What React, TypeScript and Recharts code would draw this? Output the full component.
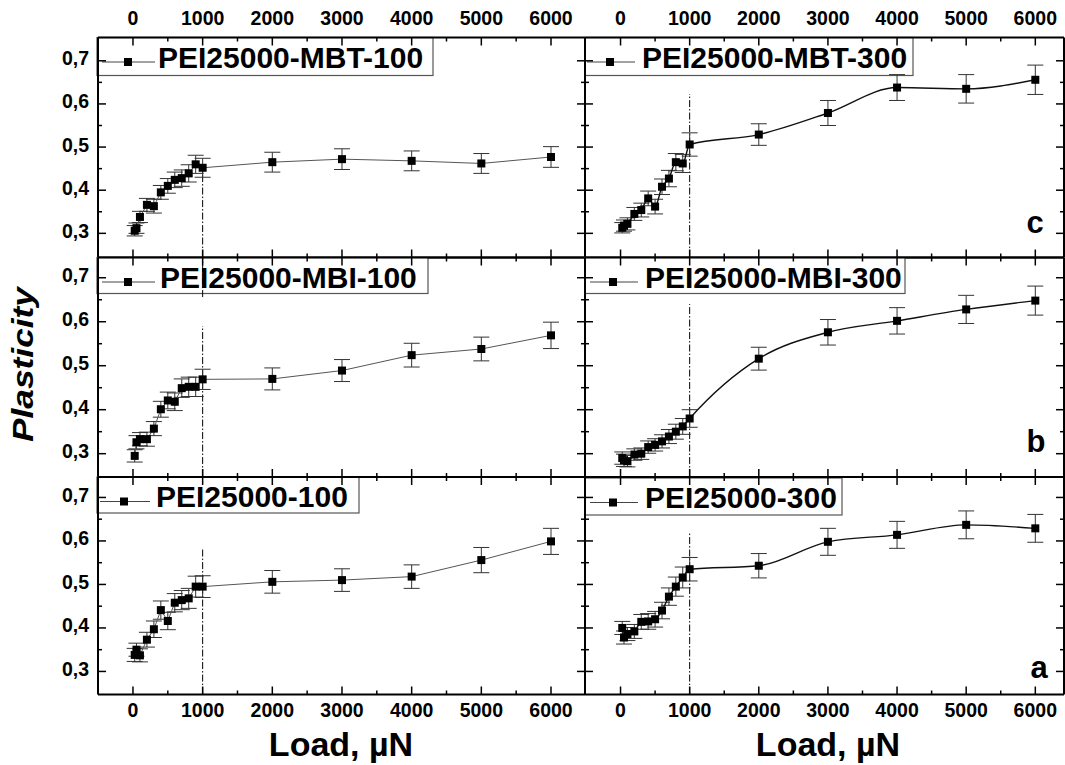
import React from 'react';
import { LineChart, Line, XAxis, YAxis, ErrorBar, ReferenceLine, Customized } from 'recharts';

const loads = [25, 50, 100, 200, 300, 400, 500, 600, 700, 800, 900, 1000, 2000, 3000, 4000, 5000, 6000];

const mbt100 = [0.306, 0.312, 0.338, 0.366, 0.363, 0.395, 0.41, 0.424, 0.428, 0.439, 0.46, 0.452, 0.465, 0.472, 0.468, 0.462, 0.477];
const mbt100Err = [0.012, 0.012, 0.013, 0.015, 0.016, 0.016, 0.017, 0.018, 0.019, 0.02, 0.021, 0.022, 0.023, 0.024, 0.023, 0.023, 0.024];
const mbt300 = [0.313, 0.318, 0.322, 0.345, 0.354, 0.381, 0.362, 0.408, 0.427, 0.465, 0.462, 0.506, 0.529, 0.579, 0.638, 0.635, 0.656];
const mbt300Err = [0.012, 0.013, 0.014, 0.015, 0.016, 0.017, 0.017, 0.018, 0.019, 0.02, 0.021, 0.027, 0.025, 0.029, 0.03, 0.033, 0.034];
const mbi100 = [0.295, 0.326, 0.333, 0.333, 0.357, 0.401, 0.421, 0.418, 0.449, 0.452, 0.452, 0.469, 0.47, 0.489, 0.524, 0.538, 0.569];
const mbi100Err = [0.014, 0.015, 0.015, 0.016, 0.016, 0.018, 0.019, 0.02, 0.021, 0.022, 0.022, 0.023, 0.025, 0.025, 0.027, 0.027, 0.03];
const mbi300 = [0.29, 0.285, 0.283, 0.298, 0.3, 0.315, 0.32, 0.328, 0.339, 0.35, 0.362, 0.38, 0.516, 0.576, 0.602, 0.628, 0.648];
const mbi300Err = [0.014, 0.014, 0.013, 0.013, 0.013, 0.014, 0.014, 0.015, 0.016, 0.017, 0.018, 0.02, 0.026, 0.029, 0.03, 0.032, 0.033];
const pei100 = [0.338, 0.35, 0.337, 0.373, 0.397, 0.441, 0.416, 0.458, 0.464, 0.468, 0.495, 0.495, 0.506, 0.51, 0.518, 0.556, 0.599];
const pei100Err = [0.015, 0.015, 0.015, 0.017, 0.019, 0.021, 0.02, 0.021, 0.022, 0.023, 0.024, 0.025, 0.026, 0.026, 0.027, 0.029, 0.03];
const pei300 = [0.4, 0.378, 0.386, 0.392, 0.414, 0.415, 0.42, 0.44, 0.472, 0.495, 0.516, 0.535, 0.543, 0.598, 0.614, 0.637, 0.629];
const pei300Err = [0.015, 0.015, 0.015, 0.016, 0.017, 0.018, 0.018, 0.019, 0.02, 0.022, 0.024, 0.027, 0.028, 0.031, 0.031, 0.032, 0.032];

const seriesNames = ['PEI25000-MBT-100', 'PEI25000-MBT-300', 'PEI25000-MBI-100', 'PEI25000-MBI-300', 'PEI25000-100', 'PEI25000-300'];
const panelLetters = ['c', 'b', 'a'];

const xTicks = [0, 500, 1000, 1500, 2000, 2500, 3000, 3500, 4000, 4500, 5000, 5500, 6000];
const xMajorTicks = [0, 1000, 2000, 3000, 4000, 5000, 6000];
const yTicks = [0.3, 0.35, 0.4, 0.45, 0.5, 0.55, 0.6, 0.65, 0.7];
const yMajorTicks = [0.3, 0.4, 0.5, 0.6, 0.7];

const xTitle = 'Load, µN';
const yTitle = 'Plasticity';

const W = 1065;
const H = 765;
const FONT = "'Liberation Sans', Arial, Helvetica, sans-serif";

const COLS = [
  { left: 98, right: 585, domain: [-502, 6488] },
  { left: 585, right: 1064, domain: [-514, 6415] },
];
const ROWS = [
  { top: 37.5, bottom: 257.5, domain: [0.244, 0.754] },
  { top: 257.5, bottom: 477, domain: [0.247, 0.746] },
  { top: 477, bottom: 694.5, domain: [0.247, 0.747] },
];

const YW = 40;
const RW = 1;
const TH = 20;
const BH = 20;
const TM = 10;

const isXMajor = (v: number) => xMajorTicks.some((m) => Math.abs(m - v) < 1e-6);
const isYMajor = (v: number) => yMajorTicks.some((m) => Math.abs(m - v) < 1e-6);
const fmtY = (v: number) => v.toFixed(1).replace('.', ',');

function makeTick(side: 'left' | 'right' | 'top' | 'bottom', showLabels: boolean) {
  return (props: any) => {
    const { x, y, payload } = props;
    const v = payload.value;
    if (side === 'left' || side === 'right') {
      const major = isYMajor(v);
      const len = major ? 8 : 4;
      const ax = side === 'left' ? x + TM : x - TM;
      const x2 = side === 'left' ? ax + len : ax - len;
      return (
        <g>
          <line x1={ax} y1={y} x2={x2} y2={y} stroke="#000" strokeWidth={1.5} />
          {showLabels && major && side === 'left' ? (
            <text x={ax - 9} y={y + 4.5} textAnchor="end" fontFamily={FONT} fontWeight="bold" fontSize={19.5} fill="#000">
              {fmtY(v)}
            </text>
          ) : null}
        </g>
      );
    }
    const major = isXMajor(v);
    const len = major ? 8 : 4;
    const ay = side === 'bottom' ? y - TM : y + TM;
    const y2 = side === 'bottom' ? ay - len : ay + len;
    return (
      <g>
        <line x1={x} y1={ay} x2={x} y2={y2} stroke="#000" strokeWidth={1.5} />
        {showLabels && major ? (
          <text x={x} y={side === 'bottom' ? ay + 22.5 : ay - 13} textAnchor="middle" fontFamily={FONT} fontWeight="bold" fontSize={19.5} fill="#000">
            {String(v)}
          </text>
        ) : null}
      </g>
    );
  };
}

const Square = (props: any) => {
  const { cx, cy, index } = props;
  if (cx == null || cy == null) return <g key={`n${index}`} />;
  return <rect key={`s${index}`} x={cx - 4} y={cy - 4} width={8} height={8} fill="#000" />;
};

type LegendCfg = { x0: number; y0: number; w: number; h: number; textX: number; symL: number; symR: number; sq: number };

const LegendBox = ({ cfg, label }: { cfg: LegendCfg; label: string }) => {
  const ly = cfg.y0 + 24.5;
  return (
    <g>
      <rect x={cfg.x0} y={cfg.y0} width={cfg.w} height={cfg.h} fill="#fff" stroke="#555" strokeWidth={1.2} />
      <line x1={cfg.symL} y1={ly} x2={cfg.symR} y2={ly} stroke="#444" strokeWidth={1} />
      <rect x={cfg.sq - 4} y={ly - 4} width={8} height={8} fill="#000" />
      <text x={cfg.textX} y={cfg.y0 + 30} fontFamily={FONT} fontWeight="bold" fontSize={30} fill="#000">
        {label}
      </text>
    </g>
  );
};

const Annotations = ({ items }: { items: React.ReactNode }) => <g>{items}</g>;

type PanelProps = {
  col: number;
  row: number;
  label: string;
  values: number[];
  errs: number[];
  curve: 'linear' | 'monotone';
  refSegs: [number, number][];
  legend: LegendCfg;
  extra?: React.ReactNode;
};

const Panel = ({ col, row, label, values, errs, curve, refSegs, legend, extra }: PanelProps) => {
  const c = COLS[col];
  const r = ROWS[row];
  const data = loads.map((x, i) => ({ x, y: values[i], e: errs[i] }));
  const margin = {
    left: c.left - YW,
    right: W - c.right - RW,
    top: r.top - TH,
    bottom: H - r.bottom - BH,
  };
  return (
    <div style={{ position: 'absolute', left: 0, top: 0 }}>
      <LineChart width={W} height={H} data={data} margin={margin}>
        <XAxis
          xAxisId={0}
          dataKey="x"
          type="number"
          domain={c.domain}
          allowDataOverflow
          ticks={xTicks}
          interval={0}
          height={BH}
          orientation="bottom"
          axisLine={{ stroke: '#000', strokeWidth: 2 }}
          tickLine={false}
          tickSize={0}
          tickMargin={TM}
          tick={makeTick('bottom', row === 2)}
        />
        <XAxis
          xAxisId="t"
          dataKey="x"
          type="number"
          domain={c.domain}
          allowDataOverflow
          ticks={xTicks}
          interval={0}
          height={TH}
          orientation="top"
          axisLine={{ stroke: '#000', strokeWidth: 2 }}
          tickLine={false}
          tickSize={0}
          tickMargin={TM}
          tick={makeTick('top', row === 0)}
        />
        <YAxis
          yAxisId={0}
          type="number"
          domain={r.domain}
          allowDataOverflow
          ticks={yTicks}
          interval={0}
          width={YW}
          orientation="left"
          axisLine={{ stroke: '#000', strokeWidth: 2 }}
          tickLine={false}
          tickSize={0}
          tickMargin={TM}
          tick={makeTick('left', col === 0)}
        />
        <YAxis
          yAxisId="r"
          type="number"
          domain={r.domain}
          allowDataOverflow
          ticks={yTicks}
          interval={0}
          width={RW}
          orientation="right"
          axisLine={{ stroke: '#000', strokeWidth: 2 }}
          tickLine={false}
          tickSize={0}
          tickMargin={TM}
          tick={makeTick('right', false)}
        />
        <Customized component={<LegendBox cfg={legend} label={label} />} />
        {refSegs.map((s, i) => (
          <ReferenceLine
            key={i}
            xAxisId={0}
            yAxisId={0}
            segment={[{ x: 1000, y: s[0] }, { x: 1000, y: s[1] }]}
            stroke="#000"
            strokeWidth={1}
            strokeDasharray="7 2 1.5 2"
            ifOverflow="visible"
          />
        ))}
        <Line
          xAxisId={0}
          yAxisId={0}
          dataKey="y"
          type={curve}
          stroke={col === 0 ? '#555' : '#111'}
          strokeWidth={col === 0 ? 1 : 1.4}
          dot={Square}
          activeDot={false}
          isAnimationActive={false}
        >
          <ErrorBar dataKey="e" width={8} stroke="#333" strokeWidth={1} direction="y" />
        </Line>
        {extra ? <Customized component={<Annotations items={extra} />} /> : null}
      </LineChart>
    </div>
  );
};

const letterEl = (x: number, y: number, t: string) => (
  <text x={x} y={y} textAnchor="middle" fontFamily={FONT} fontWeight="bold" fontSize={31} fill="#000">
    {t}
  </text>
);

export default function App() {
  return (
    <div style={{ position: 'absolute', left: 0, top: 0, width: W, height: H, background: '#fff', overflow: 'hidden' }}>
      <Panel
        col={0}
        row={0}
        label={seriesNames[0]}
        values={mbt100}
        errs={mbt100Err}
        curve="linear"
        refSegs={[[0.245, 0.452]]}
        legend={{ x0: 97, y0: 37.5, w: 336, h: 38, textX: 158, symL: 102, symR: 155, sq: 128 }}
      />
      <Panel
        col={1}
        row={0}
        label={seriesNames[1]}
        values={mbt300}
        errs={mbt300Err}
        curve="monotone"
        refSegs={[[0.245, 0.623]]}
        legend={{ x0: 585, y0: 37.5, w: 328, h: 38, textX: 642, symL: 587, symR: 635, sq: 610 }}
        extra={letterEl(1035, 233, panelLetters[0])}
      />
      <Panel
        col={0}
        row={1}
        label={seriesNames[2]}
        values={mbi100}
        errs={mbi100Err}
        curve="linear"
        refSegs={[[0.248, 0.59], [0.656, 0.746]]}
        legend={{ x0: 97, y0: 257.5, w: 331, h: 36, textX: 160, symL: 102, symR: 155, sq: 128 }}
        extra={
          <g>
            <text
              transform="translate(33, 364.5) rotate(-90)"
              textAnchor="middle"
              fontFamily={FONT}
              fontWeight="bold"
              fontStyle="italic"
              fontSize={29}
              textLength={155}
              lengthAdjust="spacingAndGlyphs"
              fill="#000"
            >
              {yTitle}
            </text>
          </g>
        }
      />
      <Panel
        col={1}
        row={1}
        label={seriesNames[3]}
        values={mbi300}
        errs={mbi300Err}
        curve="monotone"
        refSegs={[[0.248, 0.64]]}
        legend={{ x0: 585, y0: 257.5, w: 320, h: 36, textX: 645, symL: 590, symR: 638, sq: 613 }}
        extra={letterEl(1036, 452, panelLetters[1])}
      />
      <Panel
        col={0}
        row={2}
        label={seriesNames[4]}
        values={pei100}
        errs={pei100Err}
        curve="linear"
        refSegs={[[0.248, 0.582]]}
        legend={{ x0: 97, y0: 477, w: 262, h: 36, textX: 156, symL: 100, symR: 150, sq: 124 }}
        extra={
          <text x={341} y={756} textAnchor="middle" fontFamily={FONT} fontWeight="bold" fontSize={34} fill="#000">
            {xTitle}
          </text>
        }
      />
      <Panel
        col={1}
        row={2}
        label={seriesNames[5]}
        values={pei300}
        errs={pei300Err}
        curve="monotone"
        refSegs={[[0.248, 0.619]]}
        legend={{ x0: 585, y0: 478, w: 257, h: 37, textX: 645, symL: 590, symR: 638, sq: 613 }}
        extra={
          <g>
            {letterEl(1039, 678, panelLetters[2])}
            <text x={828} y={756} textAnchor="middle" fontFamily={FONT} fontWeight="bold" fontSize={34} fill="#000">
              {xTitle}
            </text>
          </g>
        }
      />
    </div>
  );
}
